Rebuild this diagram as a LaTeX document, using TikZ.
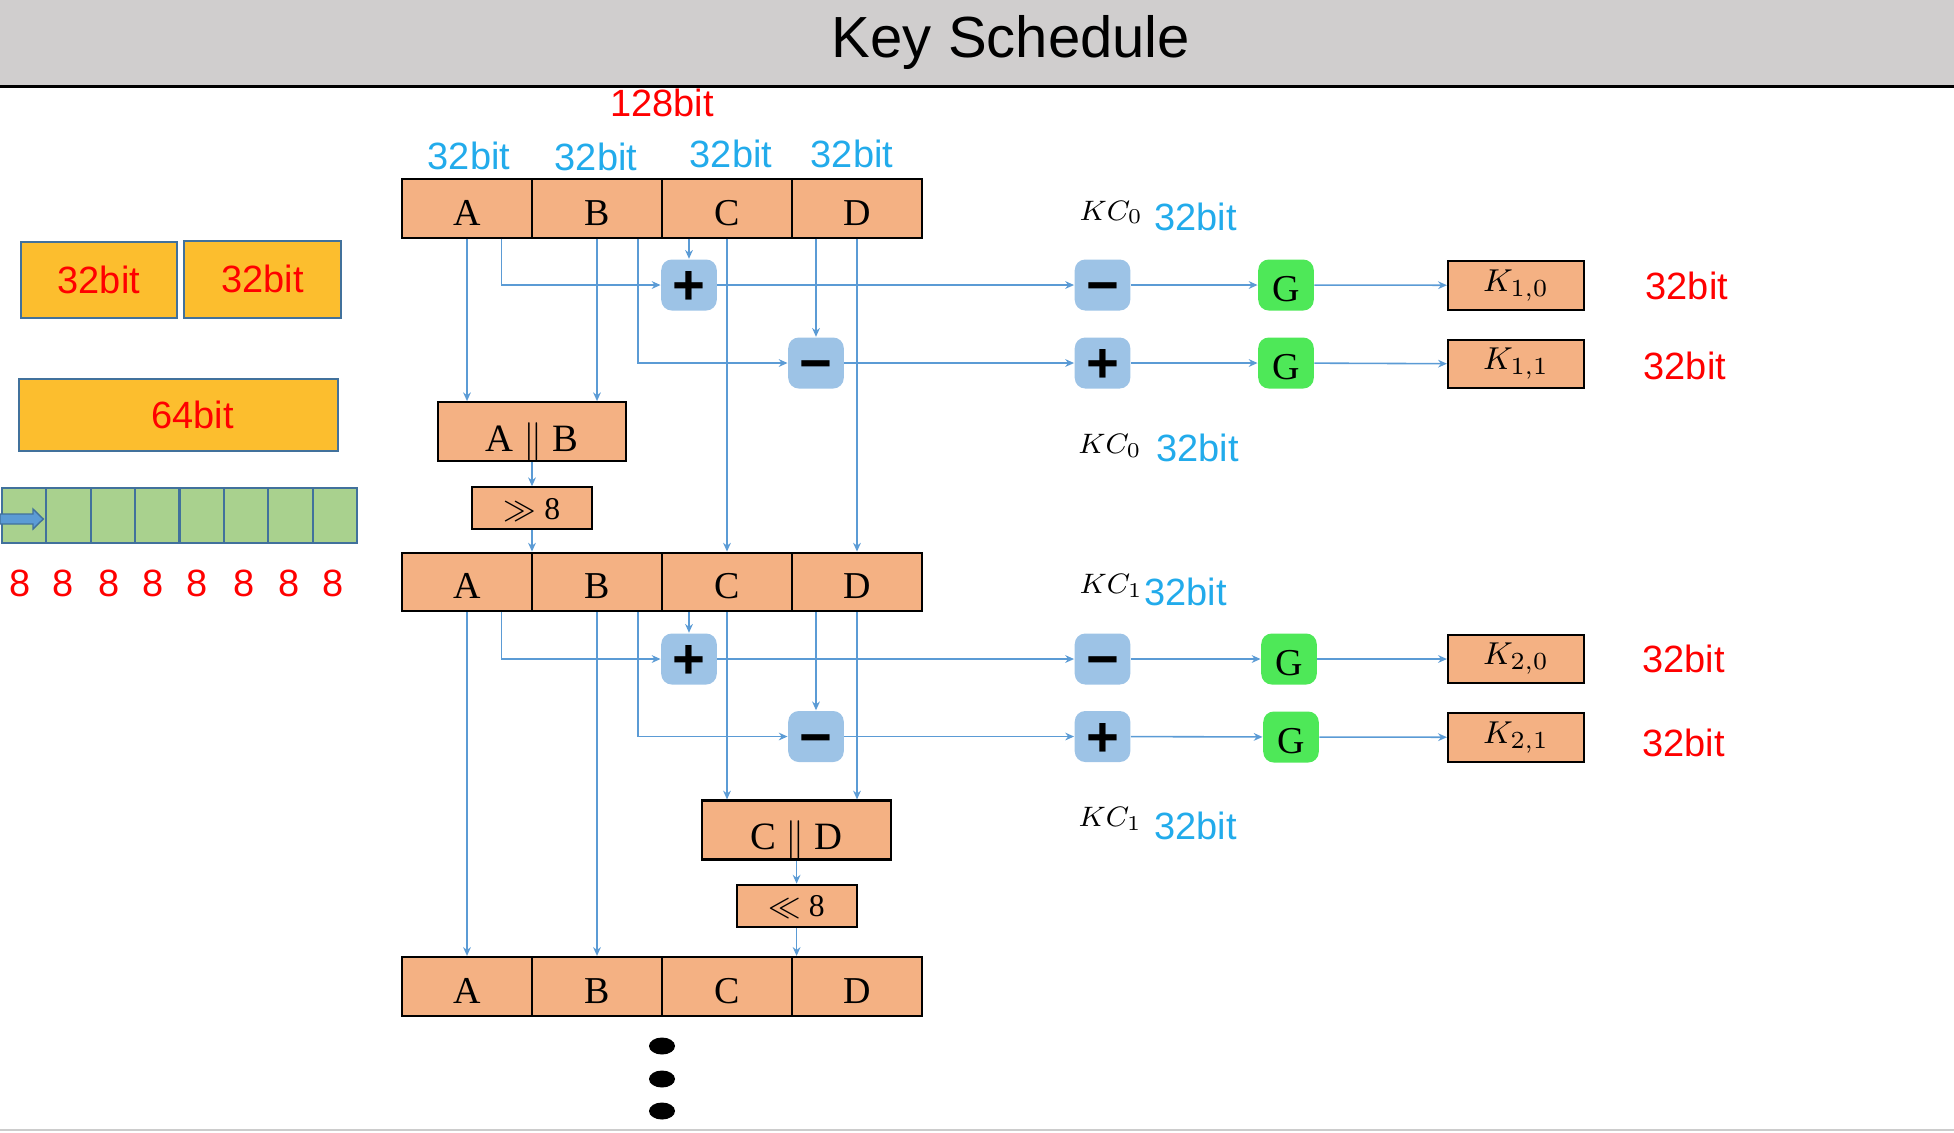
\documentclass[tikz,border=0pt]{standalone}
\usepackage{fontspec}
\setmainfont{Liberation Serif}
\setsansfont{Liberation Sans}
\usetikzlibrary{arrows.meta}
\definecolor{salmon}{HTML}{F4B183}
\definecolor{opblue}{HTML}{9DC3E6}
\definecolor{gbox}{HTML}{4EE858}
\definecolor{wordfill}{HTML}{FCBE2E}
\definecolor{wordedge}{HTML}{41719C}
\definecolor{bytefill}{HTML}{A9D18E}
\definecolor{wire}{HTML}{5B9BD5}
\definecolor{bitred}{HTML}{FF0000}
\definecolor{bitblue}{HTML}{22ABEB}
\definecolor{titlebar}{HTML}{D0CECE}

\begin{document}
\begin{tikzpicture}[x=0.01cm,y=-0.01cm,
  cell/.style={draw,line width=0.6pt,fill=salmon,minimum width=1.3cm,minimum height=0.587cm,inner sep=0pt,text height=9.5pt,text depth=0pt,font=\fontsize{10.8}{12}\selectfont},
  catbox/.style={cell,minimum width=1.885cm,minimum height=0.59cm,text height=11pt,font=\fontsize{11}{12}\selectfont},
  shiftbox/.style={cell,minimum width=1.2cm,minimum height=0.42cm,text height=6.4pt,font=\fontsize{9}{10}\selectfont},
  keybox/.style={draw,line width=0.6pt,fill=salmon,minimum width=1.36cm,minimum height=0.485cm,inner sep=0pt,font=\fontsize{9.4}{11}\selectfont},
  op/.style={fill=opblue,rounded corners=3pt,minimum width=0.555cm,minimum height=0.51cm,inner sep=0pt,text height=11.2pt,text depth=0pt,font=\sffamily\bfseries\fontsize{16}{16}\selectfont},
  gop/.style={fill=gbox,rounded corners=3pt,minimum width=0.555cm,minimum height=0.51cm,inner sep=0pt,text height=9.5pt,text depth=0pt,font=\fontsize{10.8}{12}\selectfont},
  link/.style={draw=wire,line width=0.45pt,-{Stealth[length=2.5pt,width=2.2pt]}},
  redbit/.style={text=bitred,font=\sffamily\fontsize{10.8}{12}\selectfont,anchor=base,inner sep=0pt},
  bluebit/.style={redbit,text=bitblue},
  kclabel/.style={font=\fontsize{8.3}{10}\selectfont,anchor=base west,inner sep=0pt},
  halfword/.style={draw=wordedge,line width=0.6pt,fill=wordfill,inner sep=0pt,text=bitred,font=\sffamily\fontsize{10.8}{12}\selectfont},
  byte/.style={draw=wordedge,line width=0.6pt,fill=bytefill,minimum width=0.4445cm,minimum height=0.556cm,inner sep=0pt}]
  \useasboundingbox (0,0) rectangle (1954,1132);

  %title
  \fill[titlebar] (0,0) rectangle (1954,86);
  \draw[line width=0.65pt] (0,86.5) -- (1954,86.5);
  \draw[black!20,line width=0.6pt] (0,1130) -- (1954,1130);
  \node[anchor=base,inner sep=0pt,font=\sffamily\fontsize{16.5}{18}\selectfont] (title) at (1011,57) {Key Schedule};

  %left
  \node[halfword,minimum width=1.563cm,minimum height=0.766cm] (half1) at (98.9,280) {32bit};
  \node[halfword,minimum width=1.567cm,minimum height=0.767cm] (half2) at (262.7,279.3) {32bit};
  \node[halfword,minimum width=3.19cm,minimum height=0.714cm] (whole) at (178.8,415) {\hspace{0.28cm}64bit};
  \foreach \i in {0,...,7}
    \node[byte] (byte\i) at ({23.9+44.45*\i},515.5) {};
  \filldraw[fill=wire,draw=wordedge,line width=0.4pt] (0,514) -- (33,514) -- (33,509) -- (43.3,519) -- (33,529) -- (33,524) -- (0,524) -- cycle;
  \foreach \x [count=\i] in {20,63.3,109,153.3,196.7,244.3,289.3,333.3}
    \node[redbit] (eight\i) at (\x,596.7) {8};

  %words
  \node[redbit] (total) at (662,116) {128bit};
  \foreach \x/\y [count=\i] in {469/169.3,596/170.7,731/167.3,852/167.3}
    \node[bluebit] (bits\i) at (\x,\y) {32bit};
  \foreach \r/\y in {1/208.3,2/582,3/986.3}
    \foreach \n/\t/\x in {a/A/467,b/B/597,c/C/727,d/D/857}
      \node[cell] (\n\r) at (\x,\y) {\t};
  \node[catbox] (ab) at (532,431.7) {A $\Vert$ B};
  \node[shiftbox] (shr) at (532,508.3) {$\gg$ 8};
  \node[catbox] (cd) at (796.6,830) {C $\Vert$ D};
  \node[shiftbox] (shl) at (796.6,905.7) {$\ll$ 8};
  \foreach \y in {1046,1079,1111}
    \fill (662,\y) ellipse [x radius=0.13cm,y radius=0.085cm];

  \node[op] (add1) at (689,285) {+};
  \node[op] (sub1) at (816,363) {−};
  \node[op] (add2) at (689,659) {+};
  \node[op] (sub2) at (816,736.5) {−};

  %right
  \node[op] (rsub1) at (1102.5,285) {−};
  \node[op] (radd1) at (1102.5,363) {+};
  \node[op] (rsub2) at (1102.5,659) {−};
  \node[op] (radd2) at (1102.5,736.5) {+};
  \node[gop] (g10) at (1286,285) {G};
  \node[gop] (g11) at (1286,363) {G};
  \node[gop] (g20) at (1289,659) {G};
  \node[gop] (g21) at (1291,737) {G};
  \node[keybox] (k10) at (1516,285.3) {$K_{1,0}$};
  \node[keybox] (k11) at (1516,364) {$K_{1,1}$};
  \node[keybox] (k20) at (1516,659) {$K_{2,0}$};
  \node[keybox] (k21) at (1516,737.3) {$K_{2,1}$};
  \node[redbit,anchor=base west] (kb10) at (1645,299.3) {32bit};
  \node[redbit,anchor=base west] (kb11) at (1643,379.3) {32bit};
  \node[redbit,anchor=base west] (kb20) at (1641.5,672.7) {32bit};
  \node[redbit,anchor=base west] (kb21) at (1641.5,756) {32bit};
  \node[kclabel] (kc01) at (1079,220) {$KC_0$};
  \node[bluebit,anchor=base west] (kcb01) at (1153.6,230) {32bit};
  \node[kclabel] (kc02) at (1077.7,453.3) {$KC_0$};
  \node[bluebit,anchor=base west] (kcb02) at (1155.8,461.7) {32bit};
  \node[kclabel] (kc11) at (1079,593.3) {$KC_1$};
  \node[bluebit,anchor=base west] (kcb11) at (1143.8,605) {32bit};
  \node[kclabel] (kc12) at (1078,826.7) {$KC_1$};
  \node[bluebit,anchor=base west] (kcb12) at (1153.6,839.3) {32bit};

  %first round
  \draw[link] (a1.south) -- (a1.south |- ab.north);
  \draw[link] (b1.south) -- (b1.south |- ab.north);
  \draw[link] ([xshift=0.344cm]a1.south) |- (add1.west);
  \draw[link] (c1.south -| add1) -- (add1.north);
  \draw[link] ([xshift=0.41cm]b1.south) |- (sub1.west);
  \draw[link] (d1.south -| sub1) -- (sub1.north);
  \draw[link] (c1.south) -- (c2.north);
  \draw[link] (d1.south) -- (d2.north);
  \draw[link] (ab) -- (shr);
  \draw[link] (shr.south) -- (shr.south |- a2.north);
  \draw[link] (add1) -- (rsub1);
  \draw[link] (sub1) -- (radd1);
  \draw[link] (rsub1) -- (g10);
  \draw[link] (g10) -- (k10);
  \draw[link] (radd1) -- (g11);
  \draw[link] (g11) -- (k11);

  %second round
  \draw[link] (a2.south) -- (a3.north);
  \draw[link] (b2.south) -- (b3.north);
  \draw[link] ([xshift=0.344cm]a2.south) |- (add2.west);
  \draw[link] (c2.south -| add2) -- (add2.north);
  \draw[link] ([xshift=0.41cm]b2.south) |- (sub2.west);
  \draw[link] (d2.south -| sub2) -- (sub2.north);
  \draw[link] (c2.south) -- (c2.south |- cd.north);
  \draw[link] (d2.south) -- (d2.south |- cd.north);
  \draw[link] (cd) -- (shl);
  \draw[link] (shl.south) -- (shl.south |- c3.north);
  \draw[link] (add2) -- (rsub2);
  \draw[link] (sub2) -- (radd2);
  \draw[link] (rsub2) -- (g20);
  \draw[link] (g20) -- (k20);
  \draw[link] (radd2) -- (g21);
  \draw[link] (g21) -- (k21);
\end{tikzpicture}
\end{document}
